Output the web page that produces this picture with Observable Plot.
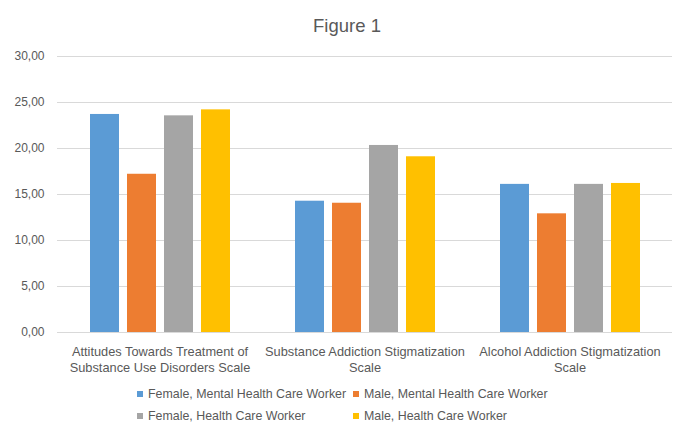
<!DOCTYPE html>
<html>
<head>
<meta charset="utf-8">
<script src="https://cdn.jsdelivr.net/npm/d3@7"></script>
<script src="https://cdn.jsdelivr.net/npm/@observablehq/plot@0.6"></script>
<style>
  body { margin: 0; background: #fff; font-family: "Liberation Sans", Arial, sans-serif; }
  #wrap { position: relative; width: 673px; height: 426px; overflow: hidden; }
  #title { position: absolute; left: 247px; width: 200px; top: 15px; text-align: center; font-size: 18.5px; color: #595959; }
  #chart { position: absolute; left: 0; top: 45px; }
  #legend { position: absolute; left: 0; top: 0; }
  .leg { position: absolute; font-size: 12.4px; line-height: 14px; color: #595959; display: flex; align-items: center; white-space: nowrap; }
  .leg span.sw { display: inline-block; width: 6px; height: 6px; margin-right: 5px; }
</style>
</head>
<body>
<div id="wrap">
  <div id="title">Figure 1</div>
  <div id="chart"></div>
  <div id="legend"></div>
</div>
<script>
const categories = [
  "Attitudes Towards Treatment of\nSubstance Use Disorders Scale",
  "Substance Addiction Stigmatization\nScale",
  "Alcohol Addiction Stigmatization\nScale"
];
const seriesNames = [
  "Female, Mental Health Care Worker",
  "Male, Mental Health Care Worker",
  "Female, Health Care Worker",
  "Male, Health Care Worker"
];
const femaleMental = [23.7, 14.27, 16.1];
const maleMental = [17.2, 14.05, 12.9];
const femaleHealth = [23.55, 20.33, 16.1];
const maleHealth = [24.2, 19.1, 16.2];
const yTicks = [0, 5, 10, 15, 20, 25, 30];
const colors = ["#5b9bd5", "#ed7d31", "#a5a5a5", "#ffc000"];

const seriesValues = [femaleMental, maleMental, femaleHealth, maleHealth];
const data = [];
categories.forEach((c, i) => {
  seriesNames.forEach((s, j) => {
    data.push({category: c, series: s, value: seriesValues[j][i]});
  });
});

const chart = Plot.plot({
  width: 673,
  height: 341,
  marginLeft: 56,
  marginRight: 0,
  marginTop: 11,
  marginBottom: 54,
  style: {fontFamily: "'Liberation Sans', Arial, sans-serif", fontSize: "12px", color: "#595959", background: "transparent", overflow: "visible"},
  fx: {domain: categories, paddingInner: 0, paddingOuter: 0, label: null},
  x: {domain: seriesNames, paddingInner: 0.225, paddingOuter: 0.83, axis: null},
  y: {domain: [0, 30], label: null},
  color: {domain: seriesNames, range: colors},
  marks: [
    Plot.gridY(yTicks, {stroke: "#d9d9d9", strokeOpacity: 1}),
    Plot.barY(data, {fx: "category", x: "series", y: "value", fill: "series"}),
    Plot.axisY({ticks: yTicks, tickSize: 0, tickPadding: 13, tickFormat: d => d.toFixed(2).replace(".", ","), fill: "#595959", fontSize: 12, label: null}),
    Plot.axisFx({anchor: "bottom", tickSize: 0, tickPadding: 12, lineHeight: 1.25, fill: "#595959", fontSize: 12.8, label: null})
  ]
});
document.getElementById("chart").appendChild(chart);

const legend = document.getElementById("legend");
const pos = [[137, 387], [353, 387], [137, 409], [353, 409]];
seriesNames.forEach((s, i) => {
  const d = document.createElement("div");
  d.className = "leg";
  d.style.left = pos[i][0] + "px";
  d.style.top = pos[i][1] + "px";
  d.innerHTML = `<span class="sw" style="background:${colors[i]}"></span>${s}`;
  legend.appendChild(d);
});
</script>
</body>
</html>
